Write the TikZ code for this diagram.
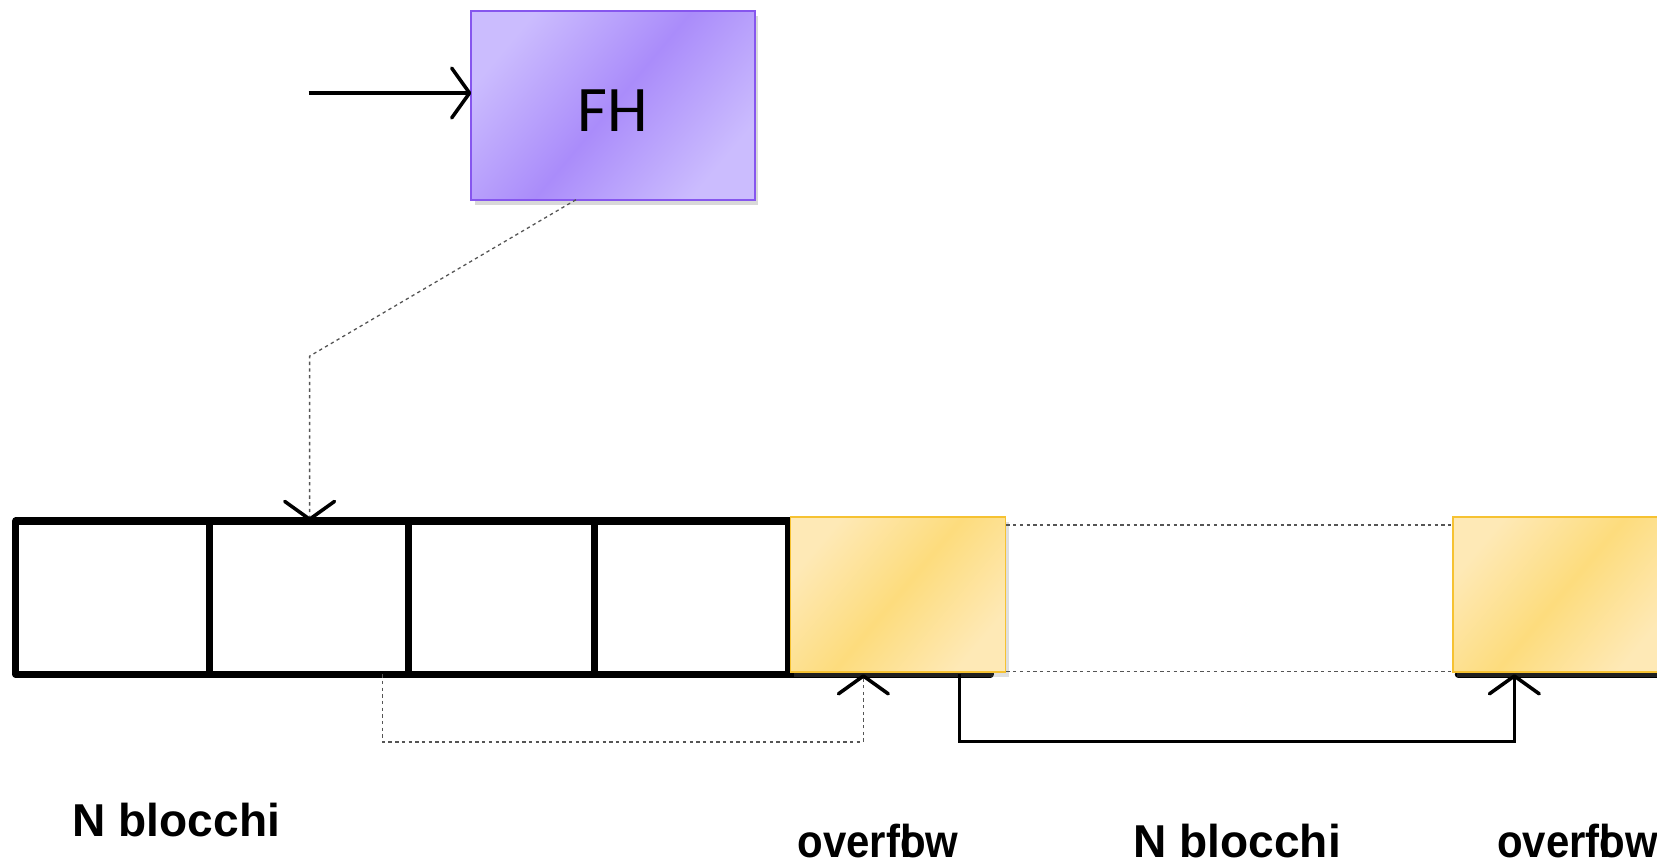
\documentclass[tikz,border=0pt]{standalone}
\usepackage{fontspec}
\usepackage{graphicx}
\setmainfont{Liberation Sans}
\newfontfamily\fhfont{Carlito}
\usetikzlibrary{arrows.meta,shadows}

\definecolor{fhlight}{HTML}{CBBCFE}
\definecolor{fhdark}{HTML}{AA8CFA}
\definecolor{fhedge}{HTML}{8656EE}
\definecolor{ovlight}{HTML}{FEE9B6}
\definecolor{ovdark}{HTML}{FDDC7D}
\definecolor{ovedge}{HTML}{F6C232}
\definecolor{dotgray}{HTML}{555555}

\newcommand{\ovtext}{\scalebox{0.91}[1]{overfl\kern-.278em ow}}

\tikzset{
	barb/.style={-{Straight Barb[length=4.8pt,width=13.4pt,line width=0.95pt,round,color=black]}},
	link/.style={line width=0.85pt,barb},
	dotlink/.style={draw=dotgray,line width=0.35pt,dash pattern=on 0.9pt off 0.9pt},
	blockline/.style={line width=1.9pt,line cap=round,line join=round},
	fhbox/.style={rectangle,minimum width=2.68cm,minimum height=1.79cm,
		draw=fhedge,line width=0.55pt,text depth=0pt,
		left color=fhlight,right color=fhlight,middle color=fhdark,shading angle=50,
		drop shadow={shadow xshift=1pt,shadow yshift=-1.4pt,opacity=0.3},
		font=\fhfont\fontsize{17.5}{20}\selectfont},
	ovbox/.style={rectangle,minimum width=2.035cm,minimum height=1.465cm,
		draw=ovedge,line width=0.45pt,
		left color=ovlight,right color=ovlight,middle color=ovdark,shading angle=50,
		drop shadow={shadow xshift=1pt,shadow yshift=-1.2pt,opacity=0.25}},
	lbl/.style={anchor=base west,inner sep=0pt,
		font=\bfseries\fontsize{12.4}{14}\selectfont}
}

\begin{document}
\begin{tikzpicture}[x=0.01cm,y=-0.01cm]
		\useasboundingbox (0,0) rectangle (1568,820);

		% file header
		\node[fhbox] (fh) at (580,99.5) {\raisebox{-2.8pt}{FH}};
		\coordinate (src) at (292,88);
		\coordinate (fhin) at (446,88);
		\draw[link] (src) -- (fhin);

		% blocks
		\draw[blockline] (15,493) rectangle (937,638);
		\foreach \x in {198,387,563,746}
			\draw[blockline] (\x,493) -- (\x,638);
		\draw[blockline] (1380,638) -- (1600,638);

		\node[ovbox] (ov1) at (849.8,562.8) {};
		\node[ovbox] (ov2) at (1476.8,562.8) {};

		\draw[dotlink] ([yshift=-2.3pt]ov1.north east) -- ([yshift=-2.3pt]ov2.north west);
		\draw[dotlink] ([yshift=0.5pt]ov1.south east) -- ([yshift=0.5pt]ov2.south west);

		% pointers
		\coordinate (fhout) at (545,189);
		\coordinate (slot) at (293,493);
		\draw[dotlink,barb] (fhout) -- (293,337) -- (slot);

		\coordinate (spill) at (362,638);
		\coordinate (ovin1) at (817,638);
		\draw[dotlink,barb] (spill) -- (362,702) -| (ovin1);

		\coordinate (ovout1) at (908,638);
		\coordinate (ovin2) at (1433,638);
		\draw[link] (ovout1) -- (908,702) -| (ovin2);

		% labels
		\node[lbl] (nb1) at (68,792) {N blocchi};
		\node[lbl] (ofl1) at (754,811) {\ovtext};
		\node[lbl] (nb2) at (1072,811) {N blocchi};
		\node[lbl] (ofl2) at (1416,811) {\ovtext};
	\end{tikzpicture}
\end{document}
